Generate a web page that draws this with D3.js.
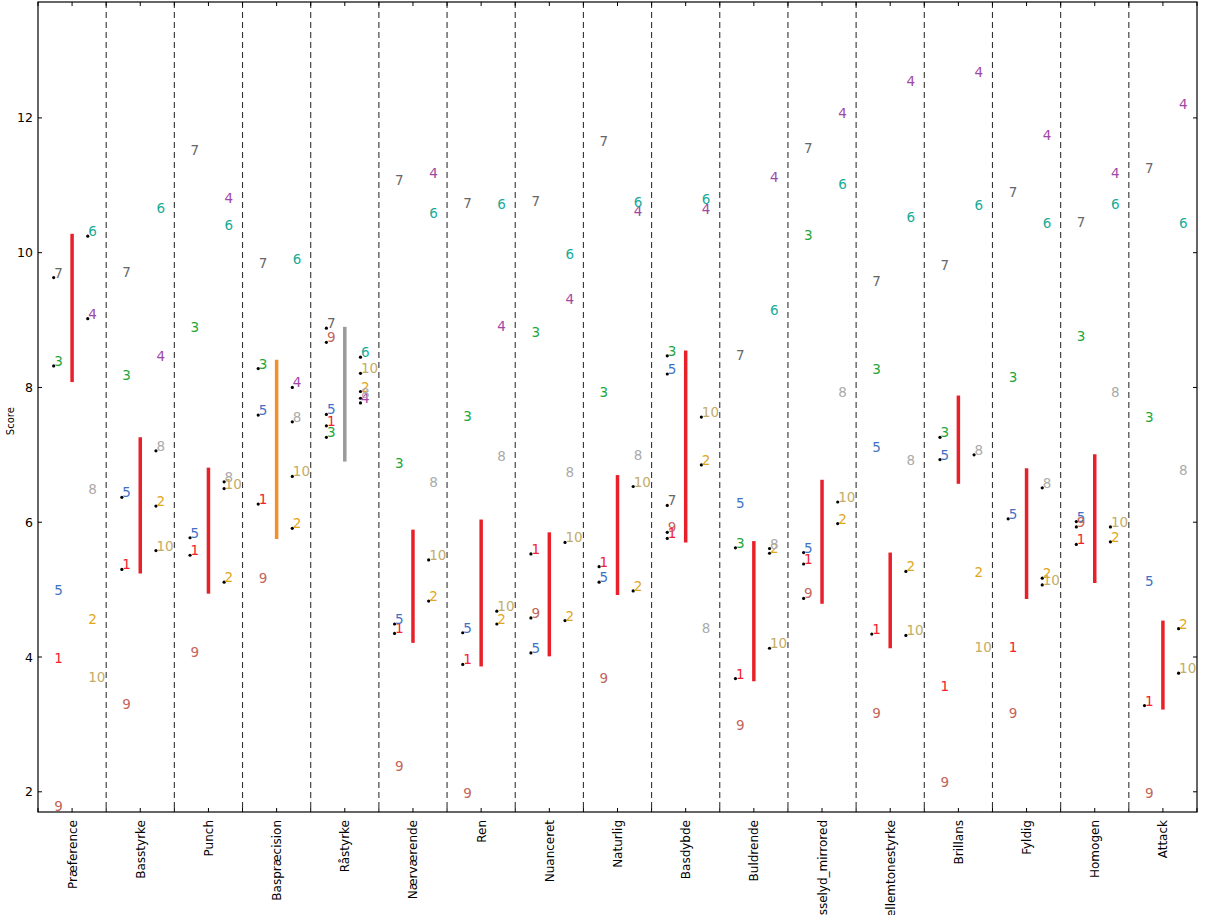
<!DOCTYPE html>
<html>
<head>
<meta charset="utf-8">
<script src="https://cdn.jsdelivr.net/npm/d3@7"></script>
<style>
  html, body { margin: 0; padding: 0; overflow: hidden; background: #fff; }
  svg { display: block; }
  text { font-family: "DejaVu Sans", sans-serif; }
</style>
</head>
<body>
<svg id="chart" width="1205" height="915"></svg>
<script>
// ---------------- DATA ----------------
const categories = ["Præference","Basstyrke","Punch","Baspræcision","Råstyrke","Nærværende","Ren","Nuanceret","Naturlig","Basdybde","Buldrende","Hvæsselyd_mirrored","Mellemtonestyrke","Brillans","Fyldig","Homogen","Attack"];

const barLow  = [8.08, 5.24, 4.94, 5.75, 6.90, 4.21, 3.86, 4.01, 4.92, 5.70, 3.64, 4.79, 4.13, 6.57, 4.86, 5.10, 3.22];
const barHigh = [10.28, 7.26, 6.81, 8.41, 8.90, 5.89, 6.04, 5.85, 6.70, 8.55, 5.72, 6.63, 5.55, 7.88, 6.80, 7.01, 4.54];

const seriesLabels = ["1","2","3","4","5","6","7","8","9","10"];
const s1  = [3.91, 5.30, 5.51, 6.27, 7.43, 4.35, 3.89, 5.53, 5.34, 5.76, 3.68, 5.38, 4.34, 3.50, 4.08, 5.67, 3.28];
const s2  = [4.49, 6.24, 5.11, 5.91, 7.94, 4.83, 4.49, 4.54, 4.98, 6.85, 5.54, 5.98, 5.27, 5.18, 5.17, 5.71, 4.42];
const s3  = [8.32, 8.11, 8.82, 8.28, 7.26, 6.81, 7.50, 8.75, 7.86, 8.47, 5.62, 10.19, 8.20, 7.26, 8.08, 8.69, 7.49];
const s4  = [9.02, 8.39, 10.74, 8.00, 7.77, 11.11, 8.84, 9.24, 10.55, 10.58, 11.05, 12.00, 12.47, 12.61, 11.67, 11.11, 12.13];
const s5  = [4.92, 6.37, 5.77, 7.59, 7.60, 4.49, 4.36, 4.06, 5.11, 8.20, 6.21, 5.55, 7.04, 6.93, 6.05, 6.01, 5.06];
const s6  = [10.245, 10.59, 10.34, 9.83, 8.45, 10.52, 10.65, 9.91, 10.68, 10.72, 9.08, 10.95, 10.46, 10.63, 10.37, 10.65, 10.37];
const s7  = [9.63, 9.64, 11.45, 9.77, 8.88, 11.01, 10.66, 10.70, 11.58, 6.25, 8.41, 11.48, 9.51, 9.74, 10.83, 10.38, 11.18];
const s8  = [6.42, 7.06, 6.60, 7.49, 7.84, 6.53, 6.91, 6.67, 6.93, 4.36, 5.61, 7.86, 6.85, 7.00, 6.51, 7.86, 6.70];
const s9  = [1.72, 3.23, 4.00, 5.10, 8.67, 2.31, 1.91, 4.58, 3.62, 5.85, 2.91, 4.87, 3.10, 2.07, 3.10, 5.93, 1.91];
const s10 = [3.63, 5.58, 6.50, 6.68, 8.21, 5.44, 4.68, 5.70, 6.53, 7.56, 4.13, 6.30, 4.32, 4.08, 5.07, 5.93, 3.76];
const seriesValues = [s1, s2, s3, s4, s5, s6, s7, s8, s9, s10];

const yTicks = [2, 4, 6, 8, 10, 12];
const yLabel = "Score";

// ---------------- STYLE ----------------
const seriesColors = ["#f5202c","#e2a619","#1ea53a","#a046a6","#3f72c6","#19ab98","#666666","#aaaaaa","#c4645a","#c4ac66"];
const barColorDefault = "#e8202a";
const barColorSpecial = { "Baspræcision": "#f28e2b", "Råstyrke": "#9a9a9a" };

const W = 1205, H = 915;
const m = { left: 38, right: 1197, top: 2, bottom: 812 };

const svg = d3.select("#chart");

const x = d3.scaleLinear().domain([-0.5, categories.length - 0.5]).range([m.left, m.right]);
const y = d3.scaleLinear().domain([1.7, 13.72]).range([m.bottom, m.top]);

const plot = svg.append("g");

// separators
const seps = d3.range(0.5, categories.length - 1, 1);
plot.selectAll("line.sep").data(seps).join("line")
  .attr("x1", d => x(d)).attr("x2", d => x(d))
  .attr("y1", m.top).attr("y2", m.bottom)
  .attr("stroke", "#333").attr("stroke-width", 1.1)
  .attr("stroke-dasharray", "6,4");

// bars
plot.selectAll("line.bar").data(categories).join("line")
  .attr("x1", (d, i) => x(i)).attr("x2", (d, i) => x(i))
  .attr("y1", (d, i) => y(barLow[i])).attr("y2", (d, i) => y(barHigh[i]))
  .attr("stroke", d => barColorSpecial[d] || barColorDefault)
  .attr("stroke-width", 3.5);

// points + labels
const pts = [];
seriesValues.forEach((vals, si) => {
  vals.forEach((v, ci) => {
    const odd = (si % 2) === 0; // labels 1,3,5,7,9 on left
    pts.push({ ci, si, v, off: odd ? -0.27 : 0.23, inside: v >= barLow[ci] && v <= barHigh[ci] });
  });
});

plot.selectAll("circle.pt").data(pts.filter(p => p.inside)).join("circle")
  .attr("cx", p => x(p.ci + p.off)).attr("cy", p => y(p.v))
  .attr("r", 1.6).attr("fill", "#000");

plot.selectAll("text.lab").data(pts).join("text")
  .attr("x", p => x(p.ci + p.off) + 0.5).attr("y", p => y(p.v))
  .attr("font-size", 13.5)
  .attr("fill", p => seriesColors[p.si])
  .text(p => seriesLabels[p.si]);

// frame
svg.append("rect")
  .attr("x", m.left).attr("y", m.top)
  .attr("width", m.right - m.left).attr("height", m.bottom - m.top)
  .attr("fill", "none").attr("stroke", "#000").attr("stroke-width", 1.2);

// x ticks (inward, top & bottom)
const xt = d3.range(-0.5, categories.length, 0.5);
svg.selectAll("line.xtb").data(xt).join("line")
  .attr("x1", d => x(d)).attr("x2", d => x(d))
  .attr("y1", m.bottom).attr("y2", m.bottom - 4)
  .attr("stroke", "#000").attr("stroke-width", 1);
svg.selectAll("line.xtt").data(xt).join("line")
  .attr("x1", d => x(d)).attr("x2", d => x(d))
  .attr("y1", m.top).attr("y2", m.top + 4)
  .attr("stroke", "#000").attr("stroke-width", 1);

// y ticks (inward, left & right)
svg.selectAll("line.ytl").data(yTicks).join("line")
  .attr("x1", m.left).attr("x2", m.left + 4)
  .attr("y1", d => y(d)).attr("y2", d => y(d))
  .attr("stroke", "#000");
svg.selectAll("line.ytr").data(yTicks).join("line")
  .attr("x1", m.right).attr("x2", m.right - 4)
  .attr("y1", d => y(d)).attr("y2", d => y(d))
  .attr("stroke", "#000");

// y tick labels
svg.selectAll("text.ytl").data(yTicks).join("text")
  .attr("x", m.left - 5).attr("y", d => y(d))
  .attr("dy", "0.36em")
  .attr("text-anchor", "end")
  .attr("font-size", 12.5)
  .attr("fill", "#000")
  .text(d => d);

// x tick labels
svg.selectAll("text.xl").data(categories).join("text")
  .attr("transform", (d, i) => `translate(${x(i) + 4.5},${m.bottom + 8}) rotate(-90)`)
  .attr("text-anchor", "end")
  .attr("font-size", 12)
  .attr("fill", "#000")
  .text(d => d);

// y label
svg.append("text")
  .attr("transform", `translate(14,${y(7.5)}) rotate(-90)`)
  .attr("text-anchor", "middle")
  .attr("font-size", 10)
  .attr("fill", "#000")
  .text(yLabel);
</script>
</body>
</html>
